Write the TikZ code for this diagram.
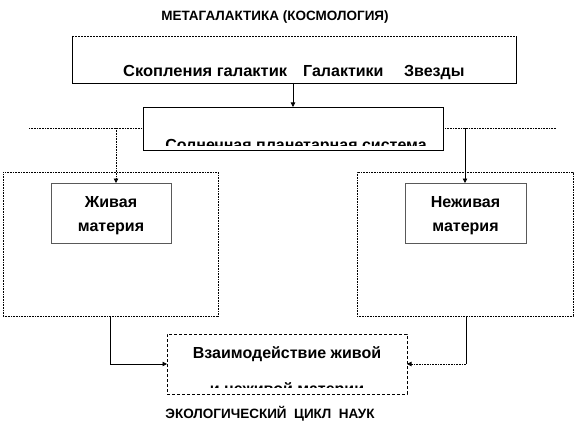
\documentclass[tikz,border=0pt]{standalone}
\usepackage{fontspec}
\setmainfont{Liberation Sans}
\usetikzlibrary{arrows.meta}
\tikzset{
  big/.style={font=\bfseries\fontsize{16}{18}\selectfont, inner sep=0pt, anchor=base},
  small/.style={font=\bfseries\fontsize{13.5}{15}\selectfont, inner sep=0pt, anchor=base},
  frame/.style={inner sep=0pt, outer sep=0pt},
  tip/.style={-{Triangle[length=4.5pt,width=4.5pt]}},
  fine/.style={line width=0.8pt},
  dotline/.style={line width=0.8pt, dash pattern=on 0.8pt off 0.8pt},
}
\begin{document}
\begin{tikzpicture}[x=1pt,y=-1pt]
\useasboundingbox (0,0) rectangle (576,436);

% title
\node[small] (title) at (275,20.5) {МЕТАГАЛАКТИКА (КОСМОЛОГИЯ)};

% top box
\node[frame, minimum width=444pt, minimum height=47pt] (topbox) at (294,59.5) {};
\draw[fine] (topbox.north west) -- (topbox.south west) -- (topbox.south east) -- (topbox.north east);
\draw[line width=0.8pt, dash pattern=on 2pt off 1pt] (topbox.north west) -- (topbox.north east);
\node[big, anchor=base west] (t1) at (123,77) {\scalebox{1.03}[1]{Скопления галактик}};
\node[big, anchor=base west] (t2) at (303,77) {Галактики};
\node[big, anchor=base west] (t3) at (404,77) {Звезды};

% dotted horizontal line
\coordinate (dl) at (29,128);
\coordinate (dr) at (556,128);
\draw[dotline] (dl) -- (dr);

% solar system box
\node[frame, fill=white, draw, fine, minimum width=300pt, minimum height=43pt] (solar) at (293,128.5) {};
\begin{scope}
  \clip (150,130) rectangle (440,145);
  \node[big] (solartext) at (296,150) {Солнечная планетарная система};
\end{scope}
\draw[fine, tip] (topbox.south -| solar.north) -- (solar.north);

% outer dotted boxes
\node[frame, draw, dotline, minimum width=215pt, minimum height=144pt] (outerL) at (110.5,244) {};
\node[frame, draw, dotline, minimum width=216pt, minimum height=144pt] (outerR) at (465,244) {};

% inner boxes
\node[frame, draw=black!65, line width=1pt, minimum width=120pt, minimum height=60pt] (live) at (111,213) {};
\node[big] (live1) at (111,207) {Живая};
\node[big] (live2) at (111,231) {материя};
\node[frame, draw=black!65, line width=1pt, minimum width=121pt, minimum height=60pt] (nonlive) at (465.5,213) {};
\node[big] (nl1) at (465.5,207) {Неживая};
\node[big] (nl2) at (465.5,231) {материя};

\coordinate (jl) at (116,128);
\coordinate (jr) at (465,128);
\draw[dotline, tip] (jl) -- (jl |- live.north);
\draw[fine, tip] (jr) -- (jr |- nonlive.north);

% bottom box
\node[frame, draw, line width=0.8pt, dash pattern=on 3pt off 2pt, minimum width=240pt, minimum height=60pt] (inter) at (287,364) {};
\node[big] (i1) at (287,358) {Взаимодействие живой};
\begin{scope}
  \clip (170,370) rectangle (404,387.5);
  \node[big] (i2) at (287,394.5) {и неживой материи};
\end{scope}

\coordinate (bl) at (110,316);
\coordinate (br) at (466,316);
\draw[fine, tip] (bl) |- (inter.west);
\draw[fine] (br) -- (br |- inter.east);
\draw[dotline, tip] (br |- inter.east) -- (inter.east);

\node[small] (eco) at (270,418.5) {ЭКОЛОГИЧЕСКИЙ\ \ ЦИКЛ\ \ НАУК};
\end{tikzpicture}
\end{document}
